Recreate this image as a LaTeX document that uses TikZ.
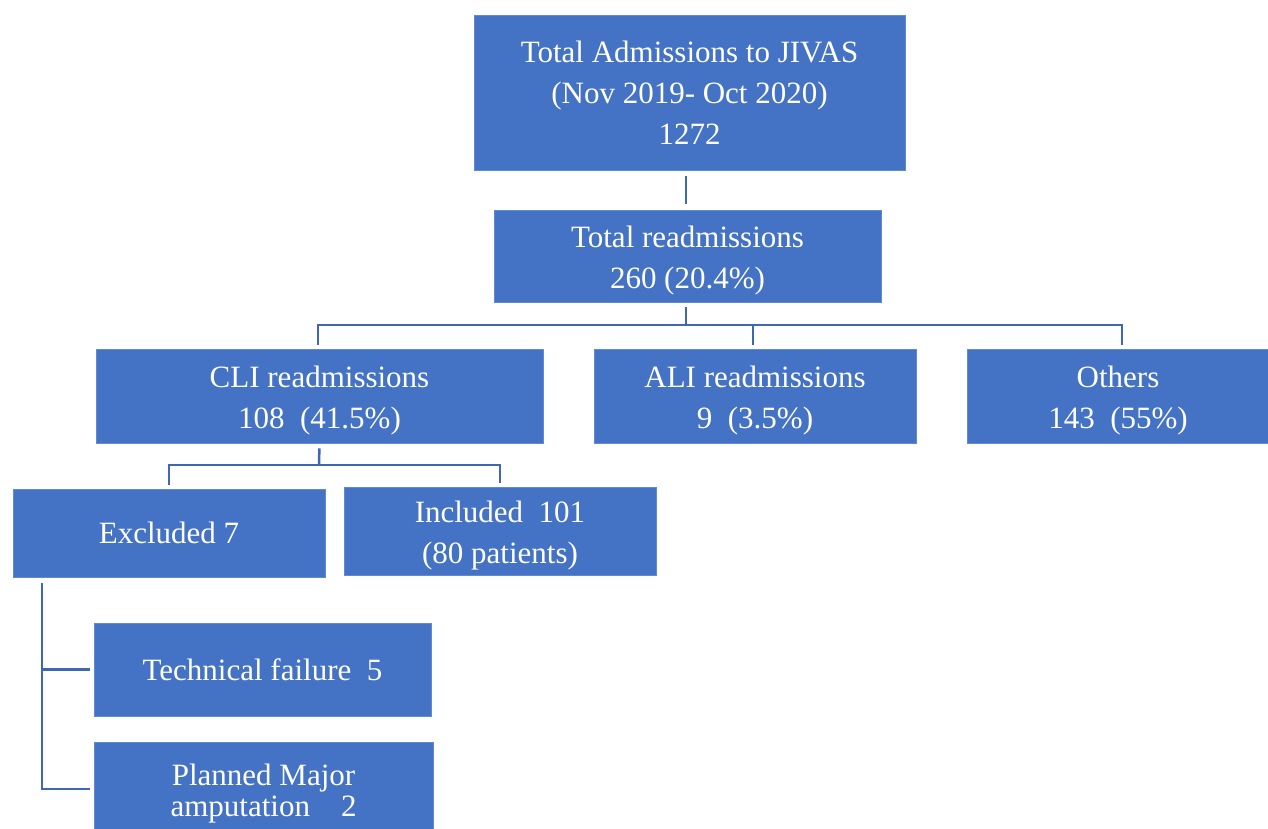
\documentclass[tikz,border=0pt]{standalone}
\usepackage{fontspec}
\setmainfont{Liberation Serif}
\definecolor{boxblue}{RGB}{68,114,196}
\definecolor{boxedge}{RGB}{96,138,210}
\definecolor{linkblue}{RGB}{62,104,180}
\newcommand\mystrut{\rule{0pt}{30pt}}
\begin{document}
\begin{tikzpicture}[x=1pt,y=-1pt,
  box/.style={fill=boxblue,draw=boxedge,line width=0.8pt,text=white,align=center,
    font=\fontsize{31}{41}\selectfont,inner sep=0pt},
  conn/.style={draw=linkblue,line width=2.5pt}]
\useasboundingbox (0,0) rectangle (1268,829);
\clip (0,0) rectangle (1268,829);
% boxes
\node[box,minimum width=431pt,minimum height=155pt] (top) at (689.5,92.5)
  {Total Admissions to JIVAS\\ (Nov 2019- Oct 2020)\\1272};
\node[box,minimum width=387pt,minimum height=92pt] (ra) at (687.5,256)
  {\mystrut Total readmissions\\260 (20.4\%)};
\node[box,minimum width=447pt,minimum height=94pt] (cli) at (319.5,396)
  {\mystrut CLI readmissions\\108 \ (41.5\%)};
\node[box,minimum width=322pt,minimum height=94pt] (ali) at (755,396)
  {\mystrut ALI readmissions\\9 \ (3.5\%)};
\node[box,minimum width=302pt,minimum height=94pt] (oth) at (1118,396)
  {\mystrut Others\\143 \ (55\%)};
\node[box,minimum width=312pt,minimum height=88pt] (exc) at (169,533)
  {Excluded 7};
\node[box,minimum width=312pt,minimum height=88pt] (inc) at (500,531)
  {\mystrut Included\ \ 101\\(80 patients)};
\node[box,minimum width=337pt,minimum height=93pt] (tec) at (262.5,669.5)
  {Technical failure\ \ 5};
\node[box,minimum width=339pt,minimum height=94pt] (pla) at (263.5,789)
  {\mystrut Planned Major\\[-10pt]amputation\ \ \ \ 2};
% connectors
\draw[conn,shorten <=6pt,shorten >=6pt] ([xshift=-3.5pt]top.south) -- ([xshift=-1.5pt]ra.south |- ra.north);
\coordinate (j1) at (686,325);
\draw[conn,shorten <=5pt] ([xshift=-1.5pt]ra.south) -- (j1);
\draw[conn,shorten >=4pt] (j1) -| ([xshift=-1.5pt]cli.north);
\draw[conn,shorten >=4pt] (j1) -| ([xshift=-2pt]ali.north);
\draw[conn,shorten >=4pt] (j1) -| ([xshift=4pt]oth.north);
\coordinate (j2) at (319,465);
\draw[conn,shorten <=5pt] (cli.south) -- (j2);
\draw[conn,shorten >=4pt] (j2) -| (exc.north);
\draw[conn,shorten >=4pt] (j2) -| (inc.north);
\coordinate (v) at (42,583);
\draw[conn,shorten >=4pt] (v) |- (pla.west);
\draw[conn,shorten >=4pt] (v |- tec.west) -- (tec.west);
\end{tikzpicture}
\end{document}
